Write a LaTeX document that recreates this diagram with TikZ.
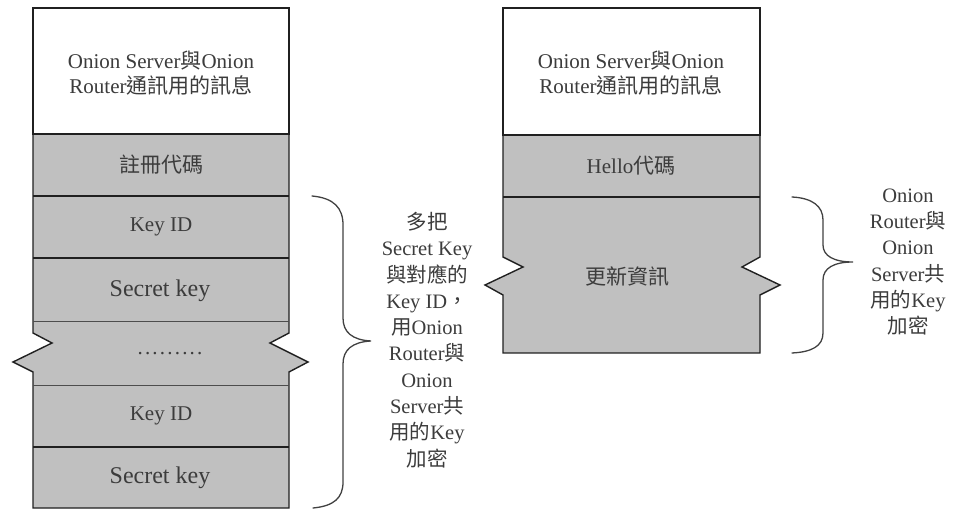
\documentclass[tikz,border=0pt]{standalone}
\usepackage{fontspec}
\setmainfont{Liberation Serif}
\newfontfamily\cjk{Noto Sans CJK TC}
\newcommand\cj[1]{{\cjk #1}}
\definecolor{fieldgray}{HTML}{C0C0C0}
\definecolor{inkgray}{HTML}{3C3C3C}
\definecolor{edgegray}{HTML}{202020}
\tikzset{
  field/.style={fill=fieldgray, draw=edgegray, line width=1.4pt, line join=miter},
  sep/.style={draw=edgegray, line width=1.4pt},
  thinsep/.style={draw=edgegray!80, line width=0.9pt},
  lbl/.style={text=inkgray, align=center, inner sep=0pt, font=\fontsize{21}{25}\selectfont},
  biglbl/.style={lbl, font=\fontsize{24}{26}\selectfont},
  note/.style={text=inkgray, align=center, inner sep=0pt, font=\fontsize{20.5}{26.3}\selectfont},
  bracestroke/.style={draw=edgegray!85, line width=1.3pt, line cap=round}
}
\begin{document}
\begin{tikzpicture}[x=1pt, y=-1pt]
\useasboundingbox (0,0) rectangle (953,510);

% ---- left frame: registration message ----
\path[field] (33,134) -- (289,134) -- (289,333) -- (270,343) -- (308,362) -- (289,372)
  -- (289,508) -- (33,508) -- (33,372) -- (13,362) -- (52,343) -- (33,333) -- cycle;
\path[fill=white, draw=edgegray, line width=1.4pt] (33,8) rectangle (289,134);
\path[sep] (33,196) -- (289,196);
\path[sep] (33,258) -- (289,258);
\path[thinsep] (33,321) -- (289,321);
\path[thinsep] (33,385) -- (289,385);
\path[sep] (33,447) -- (289,447);

\node[lbl] (lhead) at (161,73) {Onion Server\cj{與}Onion\\Router\cj{通訊用的訊息}};
\node[lbl] (lreg) at (161,165) {\cj{註冊代碼}};
\node[lbl] (lkey1) at (161,227) {Key ID};
\node[biglbl] (lsec1) at (160,291) {Secret key};
\node[lbl] (ldots) at (170,354) {.\hspace{2.2pt}.\hspace{2.2pt}.\hspace{2.2pt}.\hspace{2.2pt}.\hspace{2.2pt}.\hspace{2.2pt}.\hspace{2.2pt}.\hspace{2.2pt}.};
\node[lbl] (lkey2) at (161,416) {Key ID};
\node[biglbl] (lsec2) at (160,478) {Secret key};

% ---- right frame: hello message ----
\path[field] (503,135) -- (760,135) -- (760,257) -- (742,267) -- (780,285) -- (760,295)
  -- (760,353) -- (503,353) -- (503,295) -- (485,285) -- (523,267) -- (503,257) -- cycle;
\path[fill=white, draw=edgegray, line width=1.4pt] (503,8) rectangle (760,135);
\path[sep] (503,197) -- (760,197);

\node[lbl] (rhead) at (631,73) {Onion Server\cj{與}Onion\\Router\cj{通訊用的訊息}};
\node[lbl] (rhello) at (631,166) {Hello\cj{代碼}};
\node[lbl] (rupd) at (627,276) {\cj{更新資訊}};

% ---- curly braces ----
\draw[bracestroke] (312,196) .. controls (334,198) and (343,208) .. (343,225)
  -- (343,318) .. controls (343,332) and (352,340) .. (371,341)
  .. controls (352,342) and (343,350) .. (343,364)
  -- (343,482) .. controls (343,498) and (334,506) .. (313,508);
\draw[bracestroke] (792,197) .. controls (812,198) and (823,206) .. (823,220)
  -- (823,245) .. controls (823,256) and (834,262) .. (853,262)
  .. controls (834,262) and (823,268) .. (823,280)
  -- (823,333) .. controls (823,346) and (812,352) .. (792,353);

\node[note] (lnote) at (427,340) {\cj{多把}\\Secret Key\\\cj{與對應的}\\Key ID\cj{，}\\\cj{用}Onion\\Router\cj{與}\\Onion\\Server\cj{共}\\\cj{用的}Key\\\cj{加密}};
\node[note] (rnote) at (908,262) {Onion\\Router\cj{與}\\Onion\\Server\cj{共}\\\cj{用的}Key\\\cj{加密}};
\end{tikzpicture}
\end{document}
